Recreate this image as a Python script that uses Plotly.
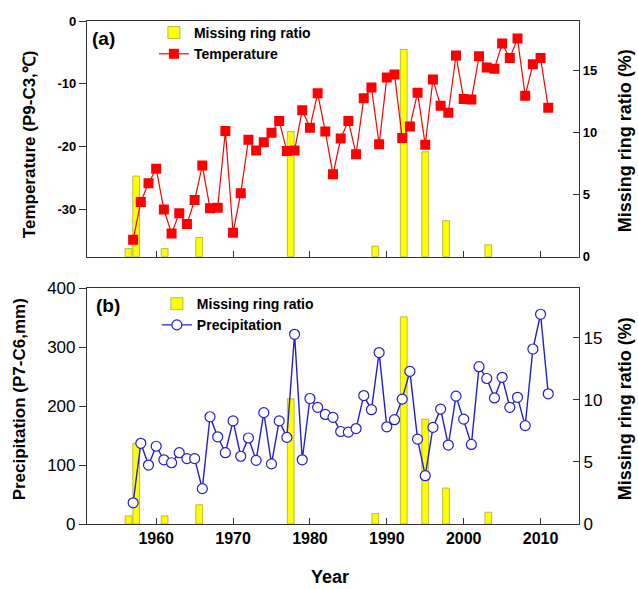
import plotly.graph_objects as go

# ---- data ----
years = list(range(1957, 2012))
temperature = [-34.8, -28.8, -25.8, -23.5, -30.0, -33.8, -30.6, -32.3, -28.5, -23.0,
               -29.8, -29.7, -17.5, -33.7, -27.4, -18.9, -20.6, -19.3, -17.8, -15.9,
               -20.7, -20.6, -14.2, -17.0, -11.5, -17.6, -24.4, -18.7, -15.9, -21.2,
               -12.3, -10.6, -19.6, -9.0, -8.5, -18.6, -16.8, -11.4, -19.7, -9.3,
               -13.5, -14.6, -5.5, -12.4, -12.5, -5.6, -7.4, -7.6, -3.6, -5.9,
               -2.8, -11.9, -6.9, -5.9, -13.8]
precipitation = [36, 137, 100, 132, 109, 104, 121, 111, 111, 60,
                 182, 148, 121, 175, 115, 146, 108, 189, 102, 175,
                 147, 322, 109, 213, 198, 186, 181, 157, 156, 162,
                 218, 194, 291, 165, 177, 212, 259, 144, 82, 164,
                 195, 134, 217, 178, 135, 267, 247, 214, 249, 198,
                 215, 167, 297, 356, 221]
bar_years = [1956.4, 1957.4, 1961.1, 1965.6, 1977.5, 1988.5, 1992.2, 1995.0, 1997.7, 2003.2]
missing_ratio = [0.65, 6.5, 0.65, 1.55, 10.1, 0.85, 16.7, 8.45, 2.9, 0.95]

x_ticks = [1960, 1970, 1980, 1990, 2000, 2010]
temp_ticks = [0, -10, -20, -30]
temp_ticktext = ["0", "-10", "-20", "-30"]
prec_ticks = [0, 100, 200, 300, 400]
ratio_ticks = [0, 5, 10, 15]

FONT = "Arial, Liberation Sans, sans-serif"

fig = go.Figure()

bar_style = dict(marker=dict(color="#FFFF00", line=dict(color="#A8A83A", width=0.8)),
                 width=0.88)

# top panel
fig.add_trace(go.Bar(x=bar_years, y=missing_ratio, name="Missing ring ratio",
                     xaxis="x", yaxis="y", legend="legend", **bar_style))
fig.add_trace(go.Scatter(x=years, y=temperature, name="Temperature", mode="lines+markers",
                         xaxis="x", yaxis="y2", legend="legend",
                         line=dict(color="#FF0000", width=1.2),
                         marker=dict(symbol="square", size=10, color="#FF0000")))
# bottom panel
fig.add_trace(go.Bar(x=bar_years, y=missing_ratio, name="Missing ring ratio",
                     xaxis="x2", yaxis="y3", legend="legend2", **bar_style))
fig.add_trace(go.Scatter(x=years, y=precipitation, name="Precipitation", mode="lines+markers",
                         xaxis="x2", yaxis="y4", legend="legend2",
                         line=dict(color="#1F1FD0", width=1.4),
                         marker=dict(symbol="circle", size=10, color="white",
                                     line=dict(color="#1F1FD0", width=1.2))))

top_dom = [0.5315, 1.0]
bot_dom = [0.0, 0.4685]
ax_common = dict(showline=True, linecolor="#333333", linewidth=1.2, showgrid=False,
                 zeroline=False, tickcolor="#333333", tickwidth=1.2)

fig.update_layout(
    width=638, height=589,
    margin=dict(l=87, r=59, t=16, b=65),
    paper_bgcolor="white", plot_bgcolor="white",
    font=dict(family=FONT, color="black"),
    barmode="overlay",
    xaxis=dict(domain=[0, 1], anchor="y", range=[1951, 2015], tickvals=x_ticks,
               ticks="inside", ticklen=6, showticklabels=False, mirror=True, **ax_common),
    yaxis=dict(domain=top_dom, anchor="x", side="right", range=[0, 19],
               tickvals=ratio_ticks, ticks="inside", ticklen=6,
               tickfont=dict(size=13, family=FONT, weight="bold"), **ax_common),
    yaxis2=dict(overlaying="y", anchor="x", side="left", range=[-37.5, 0],
                tickvals=temp_ticks, ticktext=temp_ticktext, ticks="outside", ticklen=7,
                tickfont=dict(size=13, family=FONT, weight="bold"), **ax_common),
    xaxis2=dict(domain=[0, 1], anchor="y3", range=[1951, 2015], tickvals=x_ticks,
                ticks="inside", ticklen=6, mirror=True,
                tickfont=dict(size=16, family=FONT, weight="bold"), **ax_common),
    yaxis3=dict(domain=bot_dom, anchor="x2", side="right", range=[0, 19],
                tickvals=ratio_ticks, ticks="inside", ticklen=6,
                tickfont=dict(size=17, family=FONT), **ax_common),
    yaxis4=dict(overlaying="y3", anchor="x2", side="left", range=[0, 400],
                tickvals=prec_ticks, ticks="outside", ticklen=7,
                tickfont=dict(size=17, family=FONT), **ax_common),
    legend=dict(x=0.136, y=1.008, xanchor="left", yanchor="top", bgcolor="rgba(0,0,0,0)",
                font=dict(size=14, family=FONT, weight="bold"), tracegroupgap=0,
                itemwidth=30, traceorder="normal"),
    legend2=dict(x=0.142, y=0.469, xanchor="left", yanchor="top", bgcolor="rgba(0,0,0,0)",
                 font=dict(size=14, family=FONT, weight="bold"), tracegroupgap=0,
                 itemwidth=30, traceorder="normal"),
    showlegend=True,
)

def ann(text, x, y, size, angle=0, bold=True):
    fig.add_annotation(text=text, x=x, y=y, xref="paper", yref="paper",
                       xanchor="center", yanchor="middle", showarrow=False,
                       textangle=angle,
                       font=dict(size=size, family=FONT, color="black",
                                 weight="bold" if bold else "normal"))

ann("Temperature (P9-C3,℃)", -0.118, 0.755, 17, -90)
ann("Precipitation (P7-C6,mm)", -0.138, 0.248, 17, -90)
ann("Missing ring ratio (%)", 1.0935, 0.761, 18, -90)
ann("Missing ring ratio (%)", 1.0935, 0.228, 18, -90)
ann("Year", 0.494, -0.106, 18)
ann("(a)", 0.0335, 0.966, 19)
ann("(b)", 0.042, 0.435, 19)

fig.write_html("out.html")
